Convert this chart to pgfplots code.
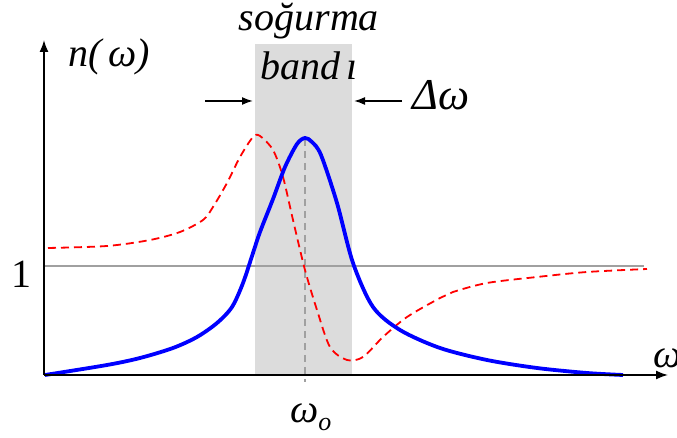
\documentclass[border=0pt]{standalone}
\usepackage{fontspec}
\setmainfont{Liberation Serif}
\usepackage{pgfplots}
\pgfplotsset{compat=1.18}
\usetikzlibrary{arrows.meta}
\definecolor{bandgray}{HTML}{DCDCDC}
\definecolor{linegray}{HTML}{A0A0A0}
\tikzset{lbl/.style={font=\fontsize{40}{44}\selectfont\itshape, inner sep=0pt}}

\begin{document}
\begin{tikzpicture}[x=1pt,y=1pt]
\begin{axis}[
  scale only axis, width=624pt, height=335pt,
  xmin=0, xmax=624, ymin=0, ymax=335,
  axis lines=left,
  axis line style={line width=1.6pt, -{Latex[length=12pt,width=9pt]}},
  xtick=\empty, ytick=\empty,
  clip=false, axis on top,
]
% absorption band
\addplot[fill=bandgray, draw=none] coordinates {(211,0) (211,331) (308,331) (308,0)} -- cycle;
% n = 1 level
\addplot[linegray, line width=1.5pt] coordinates {(0,109) (600,109)};
% omega_0
\addplot[linegray, line width=1.5pt, dash pattern=on 7pt off 5pt] coordinates {(261,236) (261,-7)};
% refractive index (dashed)
\addplot[red, line width=1.8pt, dash pattern=on 8pt off 5pt, smooth, tension=0.5] coordinates {
  (4,127) (63,129) (106,135) (136,143) (159,155) (169,168) (183,192)
  (196,218) (209,238) (216,239) (229,225) (239,198) (249,155) (261,105)
  (273,65) (286,28) (303,15) (319,18) (339,38) (363,58) (396,77)
  (409,83) (443,92) (493,98) (543,103) (603,106)
};
% absorption (solid)
\addplot[blue, line width=3.8pt, smooth, tension=0.5] coordinates {
  (1,0) (63,10) (96,17) (129,27) (153,38) (173,52) (188,68) (199,92)
  (209,122) (216,143) (229,176) (241,208) (253,231) (261,237) (268,233)
  (277,220) (293,172) (309,112) (329,68) (356,45) (396,27) (443,15)
  (493,7) (543,2) (579,0)
};
% band width arrows
\addplot[line width=1.6pt, -{Latex[length=11pt,width=8pt]}] coordinates {(161,274) (209,274)};
\addplot[line width=1.6pt, -{Latex[length=11pt,width=8pt]}] coordinates {(358,274) (310,274)};
% labels
\node[lbl, anchor=base] at (axis cs:265,344) {soğurma};
\node[lbl, anchor=base] at (axis cs:265,295) {band\,ı};
\node[lbl, anchor=base west, font=\fontsize{44}{48}\selectfont\itshape] at (axis cs:368,265) {Δω};
\node[lbl, anchor=base west] at (axis cs:24,308) {n(\,ω)};
\node[lbl, anchor=base, font=\fontsize{40}{44}\selectfont\upshape] at (axis cs:-22,87) {1};
\node[lbl, anchor=base west] at (axis cs:246,-48) {ω\raisebox{-8pt}{\fontsize{26}{28}\selectfont o}};
\node[lbl, anchor=base west] at (axis cs:609,7) {ω};
\end{axis}
\pgfresetboundingbox
\useasboundingbox (-44,-63) rectangle (633,375);
\end{tikzpicture}
\end{document}
